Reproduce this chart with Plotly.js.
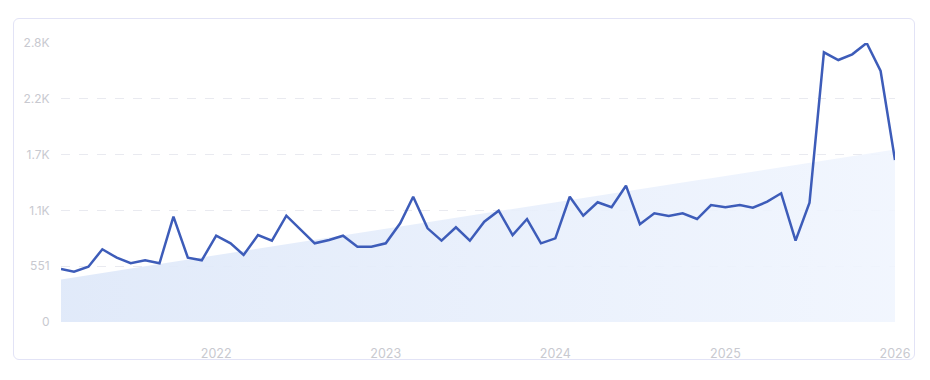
<!DOCTYPE html>
<html>
<head>
<meta charset="utf-8">
<script src="https://cdn.plot.ly/plotly-3.0.1.min.js"></script>
<style>
  html, body { margin: 0; padding: 0; background: #ffffff; }
  #card { position: absolute; left: 13px; top: 18px; width: 902px; height: 342px;
          border: 1px solid #e2e3f6; border-radius: 6px; box-sizing: border-box; }
  #chart { position: absolute; left: 0; top: 0; width: 930px; height: 380px; }
</style>
</head>
<body>
<div id="card"></div>
<div id="chart"></div>
<script>
// Monthly values, Feb 2021 .. Jan 2026
const months = [
  "2021-02","2021-03","2021-04","2021-05","2021-06","2021-07","2021-08","2021-09","2021-10","2021-11","2021-12",
  "2022-01","2022-02","2022-03","2022-04","2022-05","2022-06","2022-07","2022-08","2022-09","2022-10","2022-11","2022-12",
  "2023-01","2023-02","2023-03","2023-04","2023-05","2023-06","2023-07","2023-08","2023-09","2023-10","2023-11","2023-12",
  "2024-01","2024-02","2024-03","2024-04","2024-05","2024-06","2024-07","2024-08","2024-09","2024-10","2024-11","2024-12",
  "2025-01","2025-02","2025-03","2025-04","2025-05","2025-06","2025-07","2025-08","2025-09","2025-10","2025-11","2025-12",
  "2026-01"
];
const values = [
  523, 497, 546, 718, 635, 580, 609, 580, 1040, 635, 609,
  852, 777, 662, 859, 803, 1050, 913, 777, 810, 852, 744, 744,
  777, 975, 1237, 925, 803, 935, 803, 990, 1099, 859, 1017, 777,
  826, 1237, 1050, 1182, 1133, 1346, 965, 1073, 1047, 1073, 1017, 1155,
  1133, 1155, 1129, 1188, 1271, 803, 1178, 2663, 2587, 2643, 2755, 2479,
  1600
];
const yTickVals = [0, 551, 1102, 1653, 2204, 2755];
const yTickText = ["0", "551", "1.1K", "1.7K", "2.2K", "2.8K"];
const xTickVals = ["2022-01-01", "2023-01-01", "2024-01-01", "2025-01-01", "2026-01-01"];
const xTickText = ["2022", "2023", "2024", "2025", "2026"];

// Linear trend (least squares) of the series, drawn as the shaded area
const n = values.length;
let sx = 0, sy = 0, sxy = 0, sxx = 0;
for (let i = 0; i < n; i++) { sx += i; sy += values[i]; sxy += i * values[i]; sxx += i * i; }
const slope = (n * sxy - sx * sy) / (n * sxx - sx * sx);
const intercept = (sy - slope * sx) / n;
const trend = values.map((_, i) => intercept + slope * i);

const traces = [
  {
    x: months, y: trend, type: "scatter", mode: "lines",
    line: { width: 0, color: "rgba(0,0,0,0)" },
    fill: "tozeroy",
    fillgradient: { type: "horizontal",
      colorscale: [[0, "rgba(222,232,249,0.92)"], [1, "rgba(240,245,254,0.9)"]] },
    hoverinfo: "skip", showlegend: false
  },
  {
    x: months, y: values, type: "scatter", mode: "lines",
    line: { color: "#3d5cb9", width: 2.5 },
    showlegend: false
  }
];

const layout = {
  width: 930, height: 380,
  margin: { l: 61, r: 35, t: 43, b: 58 },
  paper_bgcolor: "rgba(0,0,0,0)",
  plot_bgcolor: "rgba(0,0,0,0)",
  font: { family: "Inter, 'Noto Sans', sans-serif", size: 12, color: "#c8c9d0" },
  showlegend: false,
  xaxis: {
    type: "date",
    range: ["2021-02-01", "2026-01-01"],
    tickmode: "array", tickvals: xTickVals, ticktext: xTickText,
    showgrid: false, zeroline: false, showline: false,
    ticks: "outside", ticklen: 20, tickcolor: "rgba(0,0,0,0)",
    tickfont: { size: 12.5, color: "#c8c9d0" }
  },
  yaxis: {
    range: [0, 2755],
    tickmode: "array", tickvals: yTickVals, ticktext: yTickText,
    showgrid: true, gridcolor: "#e9eaf0", griddash: "dash", gridwidth: 1,
    zeroline: false, showline: false,
    ticks: "outside", ticklen: 8, tickcolor: "rgba(0,0,0,0)",
    tickfont: { size: 12, color: "#c8c9d0" }
  }
};

Plotly.newPlot("chart", traces, layout, { displayModeBar: false, staticPlot: true });
</script>
</body>
</html>
